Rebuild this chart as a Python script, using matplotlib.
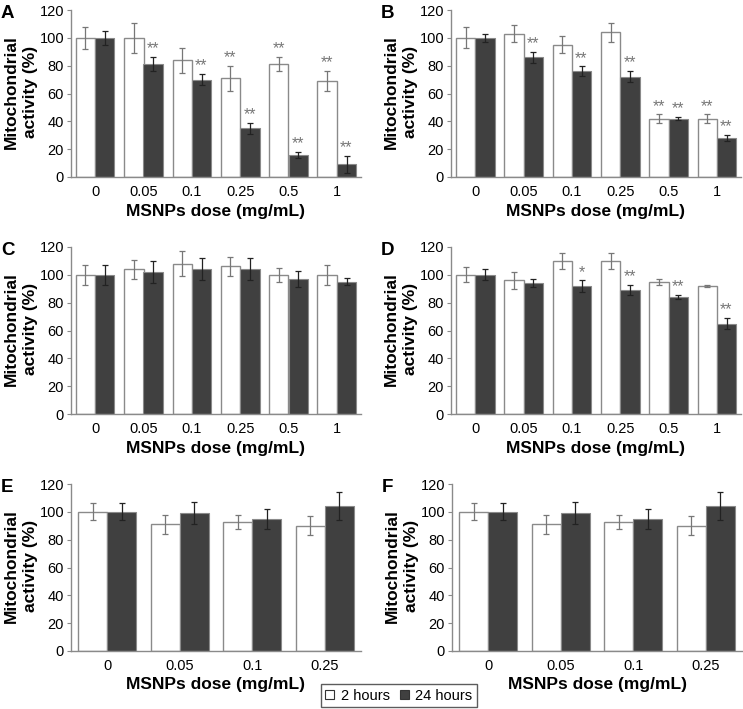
import matplotlib
matplotlib.use("Agg")
import matplotlib.pyplot as plt
from matplotlib.patches import Patch
import numpy as np

plt.rcParams['font.family'] = ['Liberation Sans', 'DejaVu Sans']

doses6 = ["0", "0.05", "0.1", "0.25", "0.5", "1"]
doses4 = ["0", "0.05", "0.1", "0.25"]

A_2h = [100, 100, 84, 71, 81, 69]
A_2h_err = [8, 11, 9, 9, 5, 7]
A_24h = [100, 81, 70, 35, 16, 9]
A_24h_err = [5, 5, 4, 4, 2, 6]
A_2h_sig = ["", "", "", "**", "**", "**"]
A_24h_sig = ["", "**", "**", "**", "**", "**"]

B_2h = [100, 103, 95, 104, 42, 42]
B_2h_err = [7.5, 6, 6, 7, 3, 3]
B_24h = [100, 86, 76, 72, 42, 28]
B_24h_err = [3, 4, 3.5, 4, 1, 2]
B_2h_sig = ["", "", "", "", "**", "**"]
B_24h_sig = ["", "**", "**", "**", "**", "**"]

C_2h = [100, 104, 108, 106, 100, 100]
C_2h_err = [7, 7, 9, 7, 5, 7]
C_24h = [100, 102, 104, 104, 97, 95]
C_24h_err = [7, 8, 8, 8, 6, 2.5]
C_2h_sig = [""] * 6
C_24h_sig = [""] * 6

D_2h = [100, 96, 110, 110, 95, 92]
D_2h_err = [5.5, 6, 6, 6, 2, 1]
D_24h = [100, 94, 92, 89, 84, 65]
D_24h_err = [4, 3, 4, 3.5, 1.5, 4]
D_2h_sig = [""] * 6
D_24h_sig = ["", "", "*", "**", "**", "**"]

E_2h = [100, 91, 93, 90]
E_2h_err = [6, 7, 5, 7]
E_24h = [100, 99, 95, 104]
E_24h_err = [6, 8, 7, 10]
E_2h_sig = [""] * 4
E_24h_sig = [""] * 4

F_2h = [100, 91, 93, 90]
F_2h_err = [6, 7, 5, 7]
F_24h = [100, 99, 95, 104]
F_24h_err = [6, 8, 7, 10]
F_2h_sig = [""] * 4
F_24h_sig = [""] * 4

yticks = [0, 20, 40, 60, 80, 100, 120]

W, H = 743, 709
fig = plt.figure(figsize=(W / 100, H / 100), dpi=100)

GRAY = '#8a8a8a'
DARK = '#404040'

panels = [
    ("A", doses6, A_2h, A_2h_err, A_24h, A_24h_err, A_2h_sig, A_24h_sig, 71, 177),
    ("B", doses6, B_2h, B_2h_err, B_24h, B_24h_err, B_2h_sig, B_24h_sig, 451, 177),
    ("C", doses6, C_2h, C_2h_err, C_24h, C_24h_err, C_2h_sig, C_24h_sig, 71, 414),
    ("D", doses6, D_2h, D_2h_err, D_24h, D_24h_err, D_2h_sig, D_24h_sig, 451, 414),
    ("E", doses4, E_2h, E_2h_err, E_24h, E_24h_err, E_2h_sig, E_24h_sig, 71, 651),
    ("F", doses4, F_2h, F_2h_err, F_24h, F_24h_err, F_2h_sig, F_24h_sig, 452, 651),
]

axw, axh = 290, 167
bw = 0.4
for (lab, cats, v2, e2, v24, e24, s2, s24, lx, by) in panels:
    ax = fig.add_axes([lx / W, (H - by) / H, axw / W, axh / H])
    x = np.arange(len(cats))
    ax.bar(x - bw / 2, v2, bw, color='white', edgecolor=GRAY, linewidth=1.0, zorder=2)
    ax.bar(x + bw / 2, v24, bw, color=DARK, edgecolor=GRAY, linewidth=0.8, zorder=2)
    ax.errorbar(x - bw / 2, v2, yerr=e2, fmt='none', ecolor='#777777', elinewidth=0.9,
                capsize=2.5, capthick=0.9, zorder=3)
    ax.errorbar(x + bw / 2, v24, yerr=e24, fmt='none', ecolor='#222222', elinewidth=0.9,
                capsize=2.5, capthick=0.9, zorder=3)
    for i in range(len(cats)):
        if s2[i]:
            ax.text(x[i] - bw / 2, v2[i] + e2[i] + 0.5, s2[i], ha='center', va='bottom',
                    fontsize=11.5, color='#777777')
        if s24[i]:
            ax.text(x[i] + bw / 2, v24[i] + e24[i] + 0.5, s24[i], ha='center', va='bottom',
                    fontsize=11.5, color='#777777')
    ax.set_xlim(-0.5, len(cats) - 0.5)
    ax.set_ylim(0, 120)
    ax.set_yticks(yticks)
    ax.set_xticks(x)
    ax.set_xticklabels(cats)
    ax.tick_params(axis='both', labelsize=10.5, colors=GRAY, labelcolor='black')
    ax.tick_params(axis='x', length=0, pad=6)
    ax.tick_params(axis='y', length=3, width=0.8, pad=2)
    for sp in ['top', 'right']:
        ax.spines[sp].set_visible(False)
    for sp in ['left', 'bottom']:
        ax.spines[sp].set_color(GRAY)
        ax.spines[sp].set_linewidth(1.0)
    ax.set_xlabel("MSNPs dose (mg/mL)", fontsize=12.5, fontweight='bold', labelpad=3)
    ax.set_ylabel("Mitochondrial\nactivity (%)", fontsize=12.5, fontweight='bold',
                  linespacing=1.4)
    ax.yaxis.set_label_coords(-0.113, 0.51)
    fig.text((lx - 70) / W, (H - by + axh + 5) / H, lab, fontsize=13.5, fontweight='bold',
             ha='left', va='top')

handles = [Patch(facecolor='white', edgecolor='#333333', linewidth=0.8, label='2 hours'),
           Patch(facecolor=DARK, edgecolor='#333333', linewidth=0.8, label='24 hours')]
fig.legend(handles=handles, loc='lower left', bbox_to_anchor=(321 / W, 2 / H), ncol=2,
           fontsize=10.5, frameon=True, fancybox=False, edgecolor='#333333',
           handlelength=0.6, handleheight=0.6, handletextpad=0.45, columnspacing=0.7,
           borderpad=0.3, borderaxespad=0)

fig.savefig("out.png", dpi=100)
